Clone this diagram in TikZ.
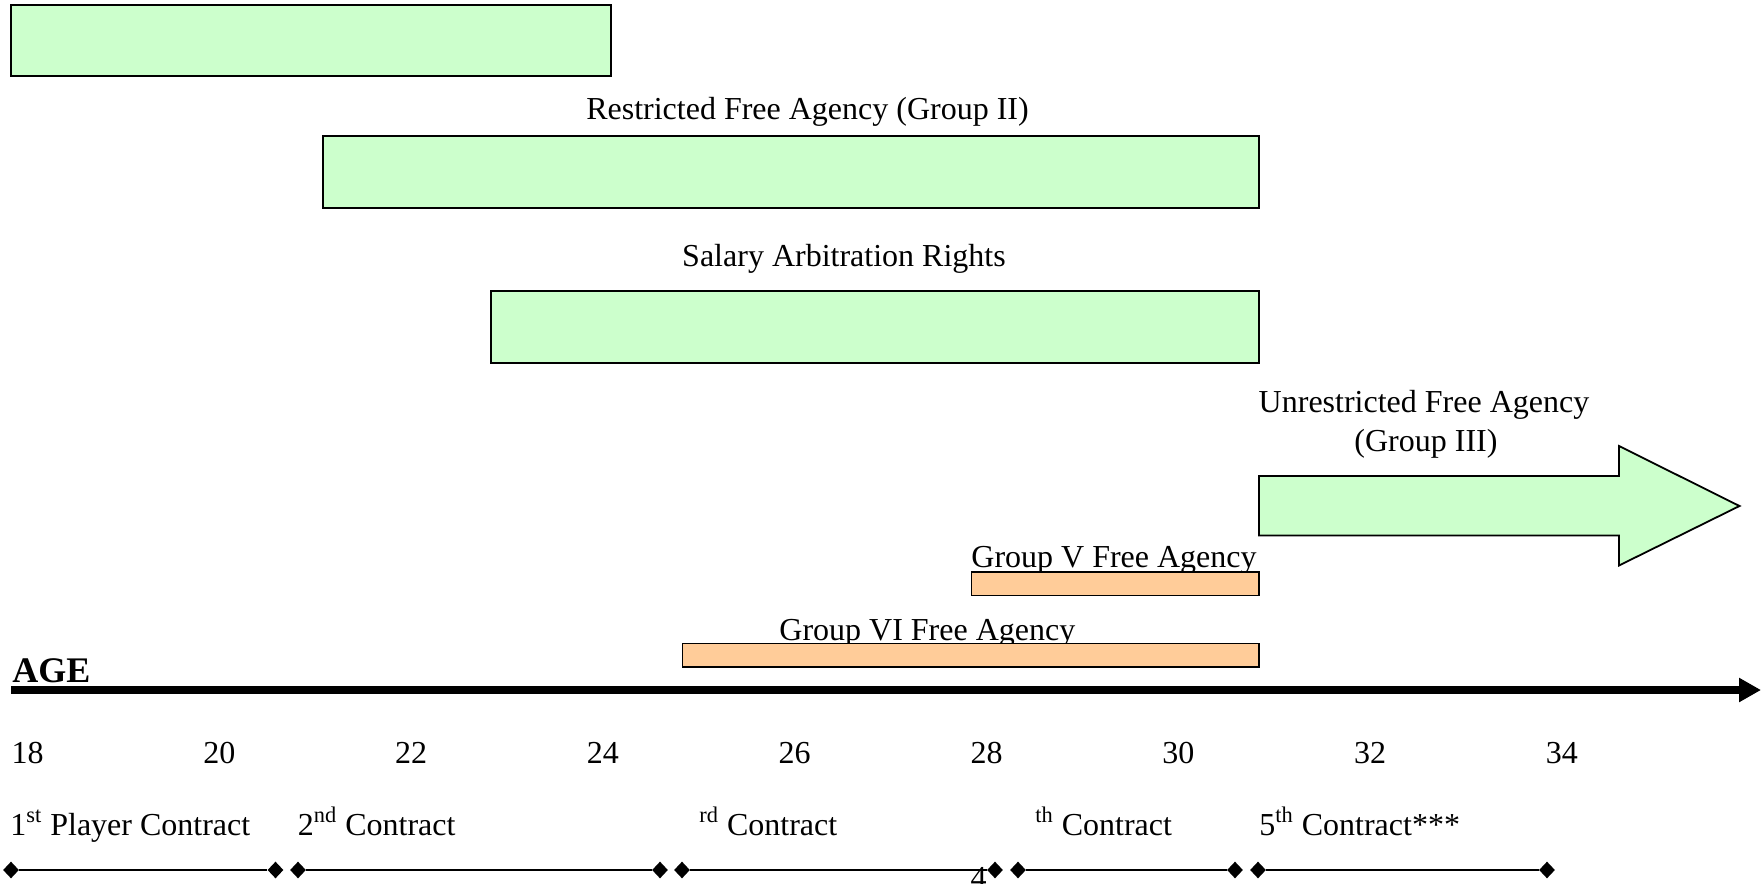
\documentclass[tikz,border=0pt]{standalone}
\usepackage{fontspec}
\setmainfont{Liberation Serif}
\usetikzlibrary{arrows.meta,shapes.geometric}
\definecolor{rightsgreen}{HTML}{CCFFCC}
\definecolor{grouporange}{HTML}{FFCC99}
\newcommand{\rgt}{rightsgreen}
\newcommand{\grp}{grouporange}
\tikzset{
  bar/.style={draw=black, line width=0.9pt},
  lbl/.style={inner sep=0pt, font=\fontsize{16}{19}\selectfont},
  tick/.style={diamond, fill=black, inner sep=0pt, minimum width=8pt, minimum height=8.5pt},
}

\begin{document}
\begin{tikzpicture}[x=0.5pt, y=-0.5pt]
        \useasboundingbox (0,0) rectangle (1763,884);
        % rights bars
        \draw[bar, fill=\rgt] (11,5) rectangle (611,76);
        \node[lbl, anchor=base] (rfa) at (807.5,119) {Restricted Free Agency (Group II)};
        \draw[bar, fill=\rgt] (323,136) rectangle (1259,208);
        \node[lbl, anchor=base] (sar) at (844,266) {Salary Arbitration Rights};
        \draw[bar, fill=\rgt] (491,291) rectangle (1259,363);
        \node[lbl, anchor=base] (ufa) at (1424,412.5) {Unrestricted Free Agency};
        \node[lbl, anchor=base] (ufb) at (1426,451) {(Group III)};
        \draw[bar, fill=\rgt] (1259,476) -- (1619,476) -- (1619,446) -- (1739.5,506)
                -- (1619,565.5) -- (1619,535.5) -- (1259,535.5) -- cycle;
        % free agency groups
        \node[lbl, anchor=base west] (gv) at (971,567) {Group V Free Agency};
        \draw[bar, fill=\grp] (971.5,572) rectangle (1259,595.5);
        \node[lbl, anchor=base west] (gvi) at (779,640) {Group VI Free Agency};
        \draw[bar, fill=\grp] (682.5,643.5) rectangle (1259,667);
        % age axis
        \node[anchor=base west, inner sep=0pt, font=\fontsize{18}{22}\selectfont\bfseries] (age) at (12,682) {AGE};
        \coordinate (ax0) at (11,690);
        \coordinate (ax1) at (1761,690);
        \draw[line width=3.8pt, -{Triangle[length=11pt, width=11.5pt]}] (ax0) -- (ax1);
        \foreach \a [count=\i from 0] in {18,20,...,34}
            \node[lbl, anchor=base] (yr\a) at (27.5+191.8*\i,763) {\a};
        % contracts
        \node[lbl, anchor=base west] (c1) at (10,835) {1\textsuperscript{st} Player Contract};
        \node[lbl, anchor=base west] (c2) at (297.5,835) {2\textsuperscript{nd} Contract};
        \node[lbl, anchor=base west] (c3) at (699,835) {\textsuperscript{rd} Contract};
        \node[lbl, anchor=base west] (c4) at (1035,835) {\textsuperscript{th} Contract};
        \node[lbl, anchor=base west] (c5) at (1259,835) {5\textsuperscript{th} Contract***};
        \foreach \s/\e [count=\i] in {11/275.5, 298/660, 682/995, 1018/1235, 1258/1547} {
            \node[tick] (s\i) at (\s,870) {};
            \node[tick] (e\i) at (\e,870) {};
            \draw[line width=0.9pt] (s\i) -- (e\i);
        }
        \node[lbl, anchor=base] (pg) at (978.5,888) {4};
\end{tikzpicture}
\end{document}
